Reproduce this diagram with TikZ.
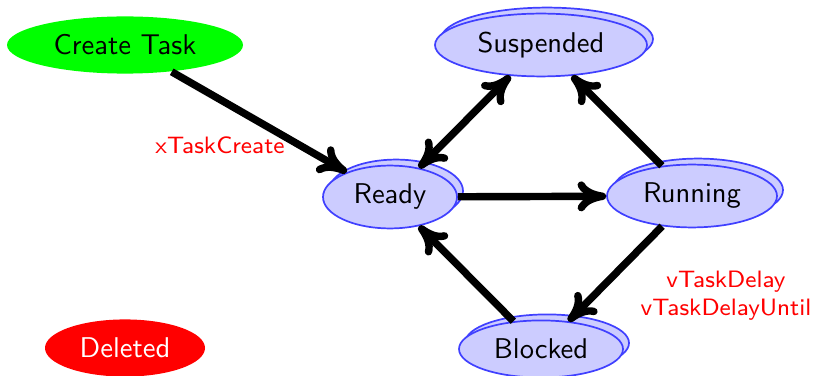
\documentclass[tikz,border=0pt]{standalone}
\usetikzlibrary{shapes.geometric,shadows,arrows.meta}
\begin{document}
\begin{tikzpicture}[x=0.35pt,y=-0.35pt, font=\sffamily,
  state/.style={ellipse, draw=blue!75, fill=blue!20, semithick, inner sep=0pt,
    minimum height=22pt,
    copy shadow={shadow xshift=2.1pt, shadow yshift=2.1pt, draw=blue!75, fill=blue!20, semithick}},
  plainstate/.style={ellipse, inner sep=0pt, minimum height=20pt},
  tip/.tip={To[length=10pt,width=10.5pt,round]},
  trans/.style={-tip, line width=2.6pt},
  bitrans/.style={tip-tip, line width=2.6pt},
  lbl/.style={text=red, font=\sffamily\fontsize{8.3}{9.8}\selectfont, align=center}]
\useasboundingbox (0,0) rectangle (814,376);

\node[plainstate, fill=green, minimum width=82.6pt] (create) at (125,45) {Create Task};
\node[plainstate, fill=red, text=white, minimum width=56pt] (deleted) at (125,348) {Deleted};

\node[state, minimum width=74.2pt] (susp) at (541,45) {Suspended};
\node[state, minimum width=46.9pt] (ready) at (390,197) {Ready};
\node[state, minimum width=59.5pt] (run) at (692,196) {Running};
\node[state, minimum width=57.4pt, minimum height=20pt] (blocked) at (541,349) {Blocked};

\node[lbl] (lcreate) at (220,145) {xTaskCreate};
\node[lbl] (ldelay) at (726,296) {vTaskDelay\\vTaskDelayUntil};

\draw[trans] (create) -- (ready);
\draw[bitrans] (ready) -- (susp);
\draw[trans] (run) -- (susp);
\draw[trans] (ready) -- (run);
\draw[trans] (run) -- (blocked);
\draw[trans] (blocked) -- (ready);
\end{tikzpicture}
\end{document}
